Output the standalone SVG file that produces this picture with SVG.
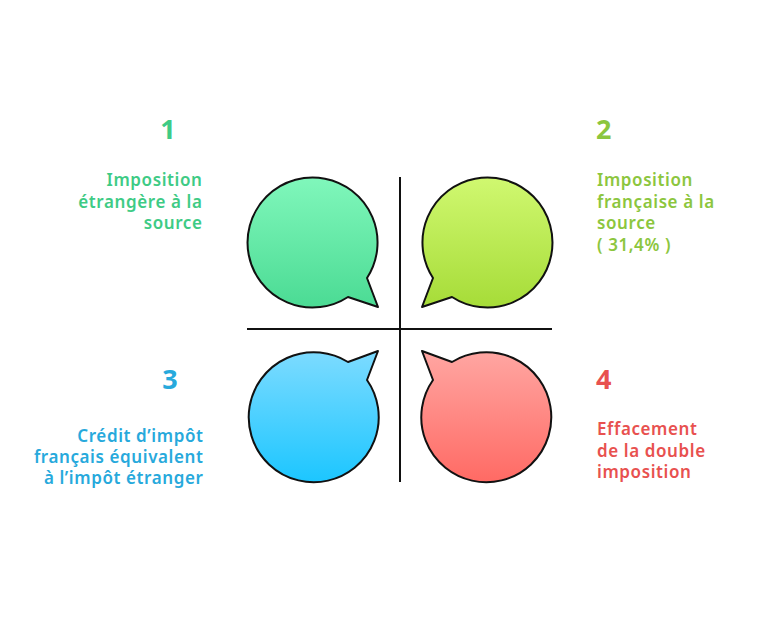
<svg xmlns="http://www.w3.org/2000/svg" width="768" height="630" viewBox="0 0 768 630">
<style>
.b{stroke:#111;stroke-width:2;stroke-linejoin:round}
.ax{stroke:#111;stroke-width:2;fill:none}
text{font-family:"Noto Sans","Open Sans",sans-serif;font-weight:600;font-size:17px;letter-spacing:0.6px}
.n{font-size:27px;font-weight:700;letter-spacing:0}
.g{fill:#3ecb85}.y{fill:#8cc63e}.c{fill:#27a9dc}.r{fill:#e8514f}
.e{text-anchor:end}
</style>
<defs>
<linearGradient id="gg" x1="0" y1="0" x2="0" y2="1"><stop offset="0" stop-color="#80f7bb"/><stop offset="1" stop-color="#4bdb94"/></linearGradient>
<linearGradient id="gy" x1="0" y1="0" x2="0" y2="1"><stop offset="0" stop-color="#d0f870"/><stop offset="1" stop-color="#a6dc38"/></linearGradient>
<linearGradient id="gc" x1="0" y1="0" x2="0" y2="1"><stop offset="0" stop-color="#7ddbff"/><stop offset="1" stop-color="#1cc6ff"/></linearGradient>
<linearGradient id="gr" x1="0" y1="0" x2="0" y2="1"><stop offset="0" stop-color="#ffa6a2"/><stop offset="1" stop-color="#ff6a64"/></linearGradient>
</defs>
<rect width="768" height="630" fill="#fff"/>
<g id="connectors">
<line class="ax" x1="400" y1="177" x2="400" y2="482"/>
<line class="ax" x1="247" y1="329" x2="552" y2="329"/>
</g>
<g id="bubble1"><path class="b" fill="url(#gg)" d="M367 278 L378 307 L348 297 A65 65 0 1 1 367 278 Z"/></g>
<g id="bubble2"><path class="b" fill="url(#gy)" d="M452 297 L422 307 L433 278 A65 65 0 1 1 452 297 Z"/></g>
<g id="bubble3"><path class="b" fill="url(#gc)" d="M348 362 L378 351 L367 380 A65 65 0 1 1 348 362 Z"/></g>
<g id="bubble4"><path class="b" fill="url(#gr)" d="M433 380 L422 351 L452 362 A65 65 0 1 1 433 380 Z"/></g>
<g id="label1" class="g">
<text class="n" x="168" y="139" text-anchor="middle">1</text>
<text class="e" x="202.5" y="186">Imposition</text>
<text class="e" x="202.5" y="207.5">étrangère à la</text>
<text class="e" x="202.5" y="229">source</text>
</g>
<g id="label2" class="y">
<text class="n" x="596" y="139">2</text>
<text x="597" y="186">Imposition</text>
<text x="597" y="207.5">française à la</text>
<text x="597" y="229">source</text>
<text x="597" y="250.5">( 31,4% )</text>
</g>
<g id="label3" class="c">
<text class="n" x="170" y="389" text-anchor="middle">3</text>
<text class="e" x="203.5" y="442">Crédit d’impôt</text>
<text class="e" x="203.5" y="463">français équivalent</text>
<text class="e" x="203.5" y="484">à l’impôt étranger</text>
</g>
<g id="label4" class="r">
<text class="n" x="596" y="389">4</text>
<text x="597" y="435">Effacement</text>
<text x="597" y="456.5">de la double</text>
<text x="597" y="478">imposition</text>
</g>
</svg>
